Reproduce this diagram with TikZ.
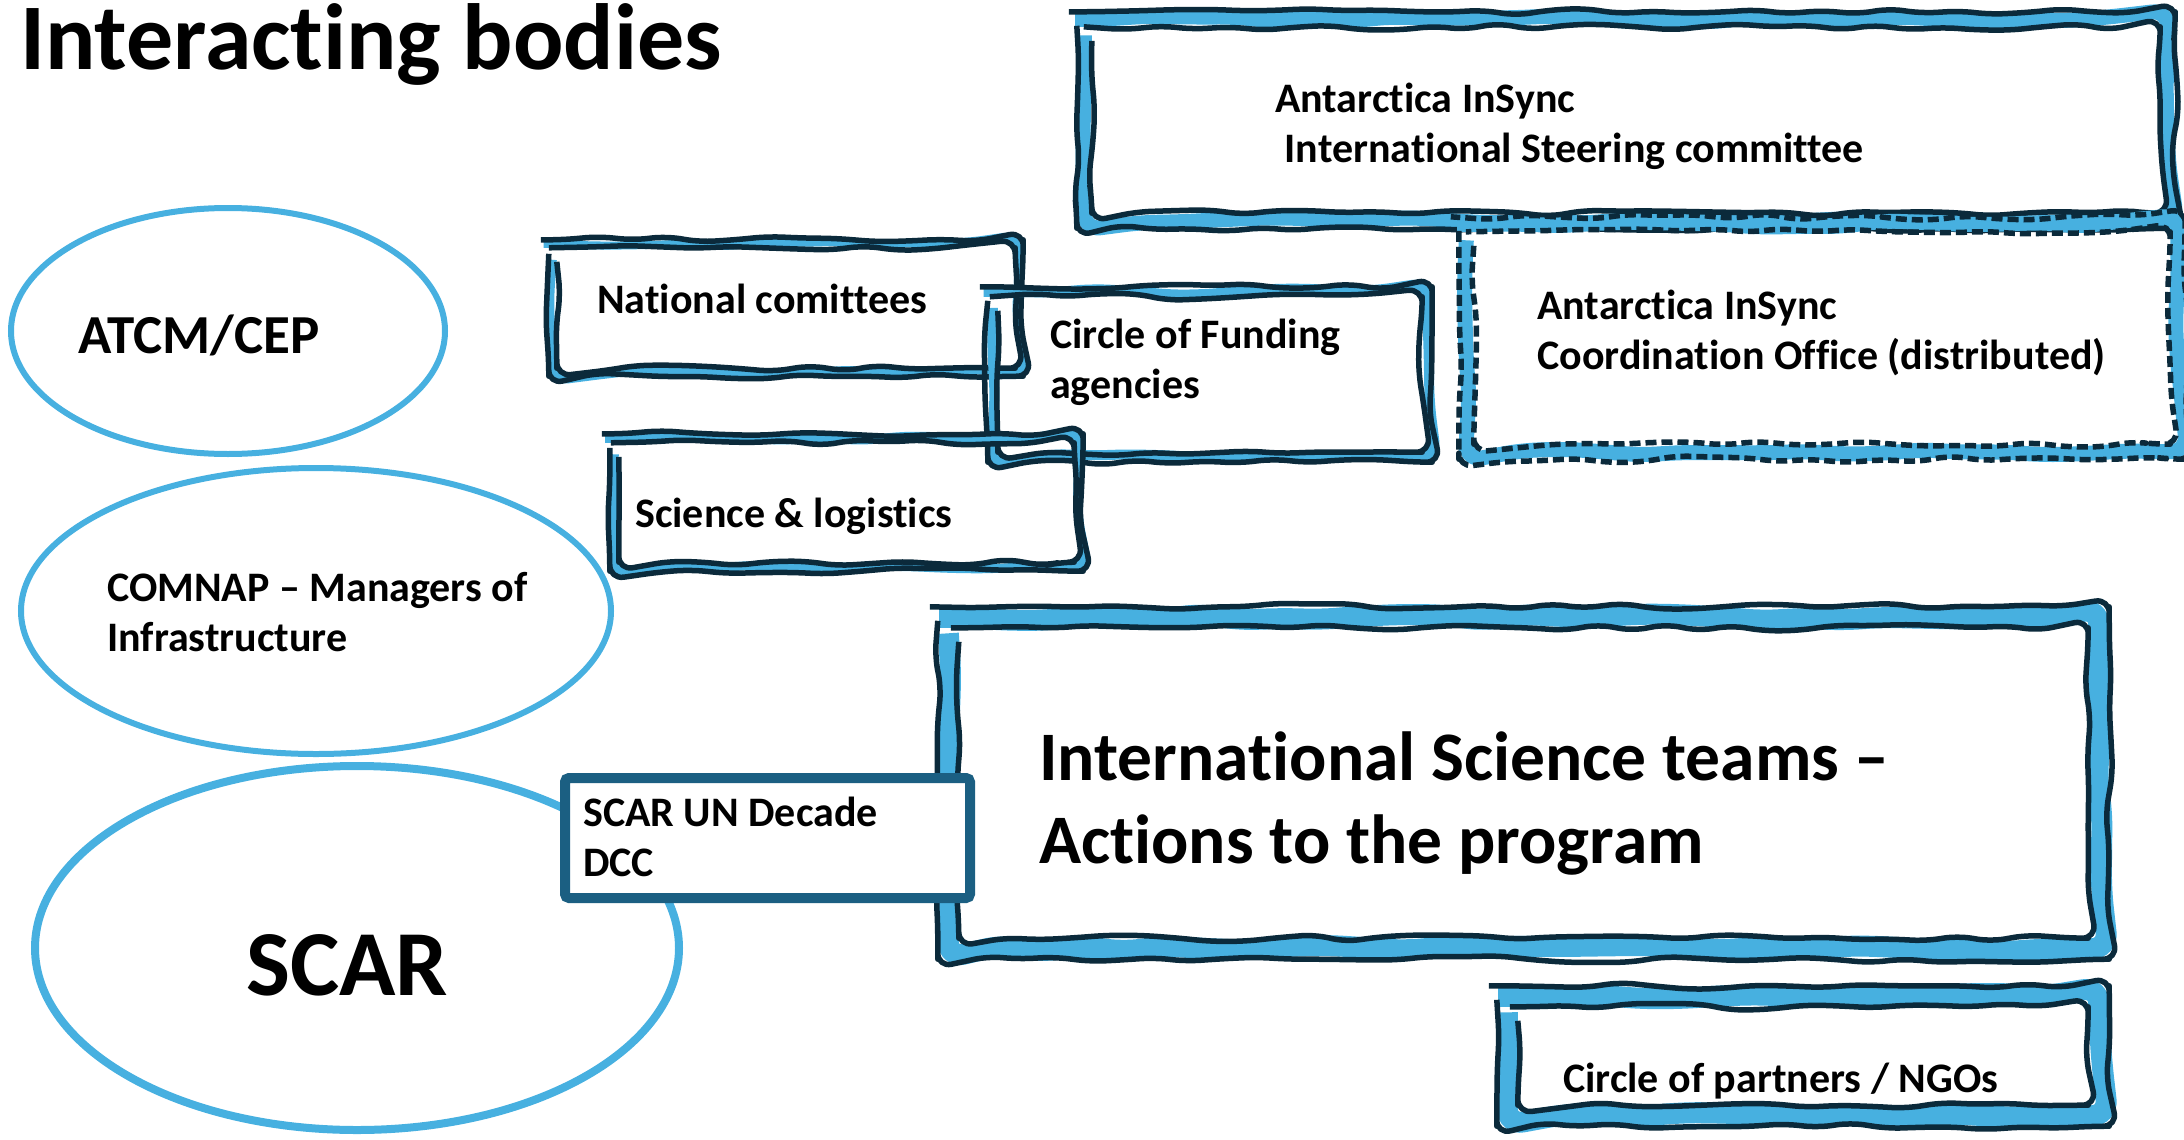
\documentclass[tikz,border=0pt]{standalone}
\usepackage{fontspec}
\setmainfont{Carlito}[Ligatures={NoCommon}]
\usetikzlibrary{shapes.geometric,decorations.pathmorphing}

\definecolor{skyband}{HTML}{47B0E0}
\definecolor{inkline}{HTML}{0B2A3B}
\definecolor{dccteal}{HTML}{1B5F82}

\tikzset{
  band/.style={draw=skyband, decorate,
    decoration={random steps, segment length=40pt, amplitude=3.5pt},
    rounded corners=16pt},
  ink/.style={draw=inkline, line width=5.5pt, line join=round, decorate,
    decoration={random steps, segment length=34pt, amplitude=3.6pt},
    rounded corners=14pt},
  oval/.style={ellipse, draw=skyband, inner sep=0pt},
  boxarea/.style={inner sep=0pt, draw=none},
  lbl/.style={anchor=base west, inner sep=0pt, align=left,
    font=\bfseries\fontsize{42}{50}\selectfont},
}

% hand-drawn double frame around a named node: #1 node, #2 band width, #3 seed, #4 line style
\newcommand\sketchframe[4]{%
  \pgfmathsetseed{#3}%
  \draw[band, line width=#2pt] ([shift={(-#2/2,-#2/2)}]#1.north west) rectangle ([shift={(#2/2,#2/2)}]#1.south east);
  \pgfmathtruncatemacro\sdA{#3+7}\pgfmathsetseed{\sdA}%
  \draw[ink,#4] ([shift={(-#2,-#2)}]#1.north west) rectangle ([shift={(#2,#2)}]#1.south east);
  \pgfmathtruncatemacro\sdB{#3+13}\pgfmathsetseed{\sdB}%
  \draw[ink,#4] (#1.north west) rectangle (#1.south east);
}

\begin{document}
\begin{tikzpicture}[x=1pt, y=-1pt]
\useasboundingbox (0,0) rectangle (2184,1140);

% title
\node[lbl, font=\bfseries\fontsize{94}{110}\selectfont] (title) at (20,70) {Interacting bodies};

% the three bodies drawn as ovals
\node[oval, line width=6pt, minimum width=434pt, minimum height=246pt] (atcm) at (228,331) {};
\node[oval, line width=6pt, minimum width=590pt, minimum height=286pt] (comnap) at (316,611) {};
\node[oval, line width=8pt, minimum width=644pt, minimum height=364pt] (scar) at (357,948) {};

% multi-line labels are placed by the baseline of their last line
\node[lbl, font=\bfseries\fontsize{55}{66}\selectfont] (atcmtext) at (78,353) {ATCM/CEP};
\node[lbl] (comnaptext) at (107,651) {COMNAP -- Managers of\\Infrastructure};
\node[lbl, font=\bfseries\fontsize{93}{110}\selectfont] (scartext) at (246,995) {SCAR};

% framed groups (inner rectangle of each frame)
\node[boxarea, minimum width=1068pt, minimum height=186pt] (steer) at (1626,120) {};
\node[boxarea, minimum width=696pt, minimum height=212pt] (coord) at (1822,338) {};
\node[boxarea, minimum width=458pt, minimum height=120pt] (natl) at (786,308) {};
\node[boxarea, minimum width=424pt, minimum height=155pt] (fund) at (1210,374.5) {};
\node[boxarea, minimum width=455pt, minimum height=119pt] (sci) at (846.5,502.5) {};
\node[boxarea, minimum width=1129pt, minimum height=310pt] (teams) at (1523.5,783) {};
\node[boxarea, minimum width=570pt, minimum height=98pt] (partners) at (1803,1056) {};

\sketchframe{steer}{15}{11}{}
\sketchframe{coord}{15}{23}{dashed, dash pattern=on 11pt off 5pt, line cap=butt}
\sketchframe{natl}{8}{31}{}
\sketchframe{fund}{10}{43}{}
\sketchframe{sci}{9}{57}{}
\sketchframe{teams}{21}{67}{}
\sketchframe{partners}{21}{79}{}

\node[lbl] (steertext) at (1275,162) {Antarctica InSync\\\ International Steering committee};
\node[lbl] (coordtext) at (1537,369) {Antarctica InSync\\Coordination Office (distributed)};
\node[lbl] (natltext) at (597,313) {National comittees};
\node[lbl] (fundtext) at (1050,398) {Circle of Funding\\agencies};
\node[lbl] (scitext) at (635,527) {Science \& logistics};
\node[lbl, font=\bfseries\fontsize{69.5}{83}\selectfont] (teamstext) at (1039,863) {International Science teams --\\Actions to the program};
\node[lbl] (partnerstext) at (1563,1092) {Circle of partners / NGOs};

% SCAR UN Decade office, on top of the oval and the teams frame
\node[draw=dccteal, fill=white, line width=10pt, rounded corners=4pt, inner sep=0pt,
      minimum width=405pt, minimum height=120pt] (dcc) at (767.5,838) {};
\node[lbl] (dcctext) at (583,876) {SCAR UN Decade\\DCC};

\end{tikzpicture}
\end{document}
